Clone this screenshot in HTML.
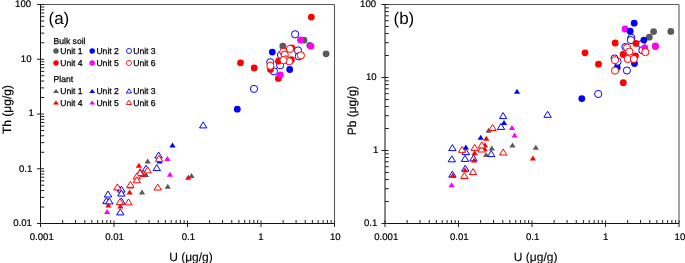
<!DOCTYPE html>
<html><head><meta charset="utf-8"><style>
html,body{margin:0;padding:0;background:#fff;}
body{width:685px;height:263px;overflow:hidden;}
svg{display:block;will-change:transform;text-rendering:geometricPrecision;font-family:"Liberation Sans",sans-serif;fill:#000;}
text.l{stroke:#000;stroke-width:0.25px;}
text.t{stroke:#000;stroke-width:0.2px;}
text.r{stroke:#000;stroke-width:0.2px;}
text.x{stroke:#000;stroke-width:0.12px;}
</style></head><body>
<svg width="685" height="263" viewBox="0 0 685 263">
<line x1="37.00" y1="4.50" x2="334.50" y2="4.50" stroke="#5a5a5a" stroke-width="1.1"/>
<line x1="334.50" y1="4.50" x2="334.50" y2="223.50" stroke="#5a5a5a" stroke-width="1.1"/>
<line x1="40.50" y1="4.50" x2="40.50" y2="224.00" stroke="#111" stroke-width="1"/>
<line x1="40.50" y1="223.50" x2="334.50" y2="223.50" stroke="#111" stroke-width="1"/>
<line x1="40.50" y1="220.50" x2="40.50" y2="227.00" stroke="#222" stroke-width="1"/>
<line x1="62.63" y1="223.50" x2="62.63" y2="220.00" stroke="#222" stroke-width="1"/>
<line x1="75.57" y1="223.50" x2="75.57" y2="220.00" stroke="#222" stroke-width="1"/>
<line x1="84.75" y1="223.50" x2="84.75" y2="220.00" stroke="#222" stroke-width="1"/>
<line x1="91.87" y1="223.50" x2="91.87" y2="220.00" stroke="#222" stroke-width="1"/>
<line x1="97.69" y1="223.50" x2="97.69" y2="220.00" stroke="#222" stroke-width="1"/>
<line x1="102.61" y1="223.50" x2="102.61" y2="220.00" stroke="#222" stroke-width="1"/>
<line x1="106.88" y1="223.50" x2="106.88" y2="220.00" stroke="#222" stroke-width="1"/>
<line x1="110.64" y1="223.50" x2="110.64" y2="220.00" stroke="#222" stroke-width="1"/>
<line x1="114.00" y1="220.50" x2="114.00" y2="227.00" stroke="#222" stroke-width="1"/>
<line x1="136.13" y1="223.50" x2="136.13" y2="220.00" stroke="#222" stroke-width="1"/>
<line x1="149.07" y1="223.50" x2="149.07" y2="220.00" stroke="#222" stroke-width="1"/>
<line x1="158.25" y1="223.50" x2="158.25" y2="220.00" stroke="#222" stroke-width="1"/>
<line x1="165.37" y1="223.50" x2="165.37" y2="220.00" stroke="#222" stroke-width="1"/>
<line x1="171.19" y1="223.50" x2="171.19" y2="220.00" stroke="#222" stroke-width="1"/>
<line x1="176.11" y1="223.50" x2="176.11" y2="220.00" stroke="#222" stroke-width="1"/>
<line x1="180.38" y1="223.50" x2="180.38" y2="220.00" stroke="#222" stroke-width="1"/>
<line x1="184.14" y1="223.50" x2="184.14" y2="220.00" stroke="#222" stroke-width="1"/>
<line x1="187.50" y1="220.50" x2="187.50" y2="227.00" stroke="#222" stroke-width="1"/>
<line x1="209.63" y1="223.50" x2="209.63" y2="220.00" stroke="#222" stroke-width="1"/>
<line x1="222.57" y1="223.50" x2="222.57" y2="220.00" stroke="#222" stroke-width="1"/>
<line x1="231.75" y1="223.50" x2="231.75" y2="220.00" stroke="#222" stroke-width="1"/>
<line x1="238.87" y1="223.50" x2="238.87" y2="220.00" stroke="#222" stroke-width="1"/>
<line x1="244.69" y1="223.50" x2="244.69" y2="220.00" stroke="#222" stroke-width="1"/>
<line x1="249.61" y1="223.50" x2="249.61" y2="220.00" stroke="#222" stroke-width="1"/>
<line x1="253.88" y1="223.50" x2="253.88" y2="220.00" stroke="#222" stroke-width="1"/>
<line x1="257.64" y1="223.50" x2="257.64" y2="220.00" stroke="#222" stroke-width="1"/>
<line x1="261.00" y1="220.50" x2="261.00" y2="227.00" stroke="#222" stroke-width="1"/>
<line x1="283.13" y1="223.50" x2="283.13" y2="220.00" stroke="#222" stroke-width="1"/>
<line x1="296.07" y1="223.50" x2="296.07" y2="220.00" stroke="#222" stroke-width="1"/>
<line x1="305.25" y1="223.50" x2="305.25" y2="220.00" stroke="#222" stroke-width="1"/>
<line x1="312.37" y1="223.50" x2="312.37" y2="220.00" stroke="#222" stroke-width="1"/>
<line x1="318.19" y1="223.50" x2="318.19" y2="220.00" stroke="#222" stroke-width="1"/>
<line x1="323.11" y1="223.50" x2="323.11" y2="220.00" stroke="#222" stroke-width="1"/>
<line x1="327.38" y1="223.50" x2="327.38" y2="220.00" stroke="#222" stroke-width="1"/>
<line x1="331.14" y1="223.50" x2="331.14" y2="220.00" stroke="#222" stroke-width="1"/>
<line x1="334.50" y1="220.50" x2="334.50" y2="227.00" stroke="#222" stroke-width="1"/>
<line x1="37.00" y1="223.50" x2="44.00" y2="223.50" stroke="#222" stroke-width="1"/>
<line x1="40.50" y1="207.02" x2="44.30" y2="207.02" stroke="#222" stroke-width="1"/>
<line x1="40.50" y1="197.38" x2="44.30" y2="197.38" stroke="#222" stroke-width="1"/>
<line x1="40.50" y1="190.54" x2="44.30" y2="190.54" stroke="#222" stroke-width="1"/>
<line x1="40.50" y1="185.23" x2="44.30" y2="185.23" stroke="#222" stroke-width="1"/>
<line x1="40.50" y1="180.90" x2="44.30" y2="180.90" stroke="#222" stroke-width="1"/>
<line x1="40.50" y1="177.23" x2="44.30" y2="177.23" stroke="#222" stroke-width="1"/>
<line x1="40.50" y1="174.06" x2="44.30" y2="174.06" stroke="#222" stroke-width="1"/>
<line x1="40.50" y1="171.26" x2="44.30" y2="171.26" stroke="#222" stroke-width="1"/>
<line x1="37.00" y1="168.75" x2="44.00" y2="168.75" stroke="#222" stroke-width="1"/>
<line x1="40.50" y1="152.27" x2="44.30" y2="152.27" stroke="#222" stroke-width="1"/>
<line x1="40.50" y1="142.63" x2="44.30" y2="142.63" stroke="#222" stroke-width="1"/>
<line x1="40.50" y1="135.79" x2="44.30" y2="135.79" stroke="#222" stroke-width="1"/>
<line x1="40.50" y1="130.48" x2="44.30" y2="130.48" stroke="#222" stroke-width="1"/>
<line x1="40.50" y1="126.15" x2="44.30" y2="126.15" stroke="#222" stroke-width="1"/>
<line x1="40.50" y1="122.48" x2="44.30" y2="122.48" stroke="#222" stroke-width="1"/>
<line x1="40.50" y1="119.31" x2="44.30" y2="119.31" stroke="#222" stroke-width="1"/>
<line x1="40.50" y1="116.51" x2="44.30" y2="116.51" stroke="#222" stroke-width="1"/>
<line x1="37.00" y1="114.00" x2="44.00" y2="114.00" stroke="#222" stroke-width="1"/>
<line x1="40.50" y1="97.52" x2="44.30" y2="97.52" stroke="#222" stroke-width="1"/>
<line x1="40.50" y1="87.88" x2="44.30" y2="87.88" stroke="#222" stroke-width="1"/>
<line x1="40.50" y1="81.04" x2="44.30" y2="81.04" stroke="#222" stroke-width="1"/>
<line x1="40.50" y1="75.73" x2="44.30" y2="75.73" stroke="#222" stroke-width="1"/>
<line x1="40.50" y1="71.40" x2="44.30" y2="71.40" stroke="#222" stroke-width="1"/>
<line x1="40.50" y1="67.73" x2="44.30" y2="67.73" stroke="#222" stroke-width="1"/>
<line x1="40.50" y1="64.56" x2="44.30" y2="64.56" stroke="#222" stroke-width="1"/>
<line x1="40.50" y1="61.76" x2="44.30" y2="61.76" stroke="#222" stroke-width="1"/>
<line x1="37.00" y1="59.25" x2="44.00" y2="59.25" stroke="#222" stroke-width="1"/>
<line x1="40.50" y1="42.77" x2="44.30" y2="42.77" stroke="#222" stroke-width="1"/>
<line x1="40.50" y1="33.13" x2="44.30" y2="33.13" stroke="#222" stroke-width="1"/>
<line x1="40.50" y1="26.29" x2="44.30" y2="26.29" stroke="#222" stroke-width="1"/>
<line x1="40.50" y1="20.98" x2="44.30" y2="20.98" stroke="#222" stroke-width="1"/>
<line x1="40.50" y1="16.65" x2="44.30" y2="16.65" stroke="#222" stroke-width="1"/>
<line x1="40.50" y1="12.98" x2="44.30" y2="12.98" stroke="#222" stroke-width="1"/>
<line x1="40.50" y1="9.81" x2="44.30" y2="9.81" stroke="#222" stroke-width="1"/>
<line x1="40.50" y1="7.01" x2="44.30" y2="7.01" stroke="#222" stroke-width="1"/>
<line x1="37.00" y1="4.50" x2="44.00" y2="4.50" stroke="#222" stroke-width="1"/>
<line x1="381.50" y1="4.50" x2="679.00" y2="4.50" stroke="#5a5a5a" stroke-width="1.1"/>
<line x1="679.00" y1="4.50" x2="679.00" y2="223.50" stroke="#5a5a5a" stroke-width="1.1"/>
<line x1="385.00" y1="4.50" x2="385.00" y2="224.00" stroke="#111" stroke-width="1"/>
<line x1="385.00" y1="223.50" x2="679.00" y2="223.50" stroke="#111" stroke-width="1"/>
<line x1="385.00" y1="220.50" x2="385.00" y2="227.00" stroke="#222" stroke-width="1"/>
<line x1="407.13" y1="223.50" x2="407.13" y2="220.00" stroke="#222" stroke-width="1"/>
<line x1="420.07" y1="223.50" x2="420.07" y2="220.00" stroke="#222" stroke-width="1"/>
<line x1="429.25" y1="223.50" x2="429.25" y2="220.00" stroke="#222" stroke-width="1"/>
<line x1="436.37" y1="223.50" x2="436.37" y2="220.00" stroke="#222" stroke-width="1"/>
<line x1="442.19" y1="223.50" x2="442.19" y2="220.00" stroke="#222" stroke-width="1"/>
<line x1="447.11" y1="223.50" x2="447.11" y2="220.00" stroke="#222" stroke-width="1"/>
<line x1="451.38" y1="223.50" x2="451.38" y2="220.00" stroke="#222" stroke-width="1"/>
<line x1="455.14" y1="223.50" x2="455.14" y2="220.00" stroke="#222" stroke-width="1"/>
<line x1="458.50" y1="220.50" x2="458.50" y2="227.00" stroke="#222" stroke-width="1"/>
<line x1="480.63" y1="223.50" x2="480.63" y2="220.00" stroke="#222" stroke-width="1"/>
<line x1="493.57" y1="223.50" x2="493.57" y2="220.00" stroke="#222" stroke-width="1"/>
<line x1="502.75" y1="223.50" x2="502.75" y2="220.00" stroke="#222" stroke-width="1"/>
<line x1="509.87" y1="223.50" x2="509.87" y2="220.00" stroke="#222" stroke-width="1"/>
<line x1="515.69" y1="223.50" x2="515.69" y2="220.00" stroke="#222" stroke-width="1"/>
<line x1="520.61" y1="223.50" x2="520.61" y2="220.00" stroke="#222" stroke-width="1"/>
<line x1="524.88" y1="223.50" x2="524.88" y2="220.00" stroke="#222" stroke-width="1"/>
<line x1="528.64" y1="223.50" x2="528.64" y2="220.00" stroke="#222" stroke-width="1"/>
<line x1="532.00" y1="220.50" x2="532.00" y2="227.00" stroke="#222" stroke-width="1"/>
<line x1="554.13" y1="223.50" x2="554.13" y2="220.00" stroke="#222" stroke-width="1"/>
<line x1="567.07" y1="223.50" x2="567.07" y2="220.00" stroke="#222" stroke-width="1"/>
<line x1="576.25" y1="223.50" x2="576.25" y2="220.00" stroke="#222" stroke-width="1"/>
<line x1="583.37" y1="223.50" x2="583.37" y2="220.00" stroke="#222" stroke-width="1"/>
<line x1="589.19" y1="223.50" x2="589.19" y2="220.00" stroke="#222" stroke-width="1"/>
<line x1="594.11" y1="223.50" x2="594.11" y2="220.00" stroke="#222" stroke-width="1"/>
<line x1="598.38" y1="223.50" x2="598.38" y2="220.00" stroke="#222" stroke-width="1"/>
<line x1="602.14" y1="223.50" x2="602.14" y2="220.00" stroke="#222" stroke-width="1"/>
<line x1="605.50" y1="220.50" x2="605.50" y2="227.00" stroke="#222" stroke-width="1"/>
<line x1="627.63" y1="223.50" x2="627.63" y2="220.00" stroke="#222" stroke-width="1"/>
<line x1="640.57" y1="223.50" x2="640.57" y2="220.00" stroke="#222" stroke-width="1"/>
<line x1="649.75" y1="223.50" x2="649.75" y2="220.00" stroke="#222" stroke-width="1"/>
<line x1="656.87" y1="223.50" x2="656.87" y2="220.00" stroke="#222" stroke-width="1"/>
<line x1="662.69" y1="223.50" x2="662.69" y2="220.00" stroke="#222" stroke-width="1"/>
<line x1="667.61" y1="223.50" x2="667.61" y2="220.00" stroke="#222" stroke-width="1"/>
<line x1="671.88" y1="223.50" x2="671.88" y2="220.00" stroke="#222" stroke-width="1"/>
<line x1="675.64" y1="223.50" x2="675.64" y2="220.00" stroke="#222" stroke-width="1"/>
<line x1="679.00" y1="220.50" x2="679.00" y2="227.00" stroke="#222" stroke-width="1"/>
<line x1="381.50" y1="223.50" x2="388.50" y2="223.50" stroke="#222" stroke-width="1"/>
<line x1="385.00" y1="201.52" x2="388.80" y2="201.52" stroke="#222" stroke-width="1"/>
<line x1="385.00" y1="188.67" x2="388.80" y2="188.67" stroke="#222" stroke-width="1"/>
<line x1="385.00" y1="179.55" x2="388.80" y2="179.55" stroke="#222" stroke-width="1"/>
<line x1="385.00" y1="172.48" x2="388.80" y2="172.48" stroke="#222" stroke-width="1"/>
<line x1="385.00" y1="166.69" x2="388.80" y2="166.69" stroke="#222" stroke-width="1"/>
<line x1="385.00" y1="161.81" x2="388.80" y2="161.81" stroke="#222" stroke-width="1"/>
<line x1="385.00" y1="157.57" x2="388.80" y2="157.57" stroke="#222" stroke-width="1"/>
<line x1="385.00" y1="153.84" x2="388.80" y2="153.84" stroke="#222" stroke-width="1"/>
<line x1="381.50" y1="150.50" x2="388.50" y2="150.50" stroke="#222" stroke-width="1"/>
<line x1="385.00" y1="128.52" x2="388.80" y2="128.52" stroke="#222" stroke-width="1"/>
<line x1="385.00" y1="115.67" x2="388.80" y2="115.67" stroke="#222" stroke-width="1"/>
<line x1="385.00" y1="106.55" x2="388.80" y2="106.55" stroke="#222" stroke-width="1"/>
<line x1="385.00" y1="99.48" x2="388.80" y2="99.48" stroke="#222" stroke-width="1"/>
<line x1="385.00" y1="93.69" x2="388.80" y2="93.69" stroke="#222" stroke-width="1"/>
<line x1="385.00" y1="88.81" x2="388.80" y2="88.81" stroke="#222" stroke-width="1"/>
<line x1="385.00" y1="84.57" x2="388.80" y2="84.57" stroke="#222" stroke-width="1"/>
<line x1="385.00" y1="80.84" x2="388.80" y2="80.84" stroke="#222" stroke-width="1"/>
<line x1="381.50" y1="77.50" x2="388.50" y2="77.50" stroke="#222" stroke-width="1"/>
<line x1="385.00" y1="55.52" x2="388.80" y2="55.52" stroke="#222" stroke-width="1"/>
<line x1="385.00" y1="42.67" x2="388.80" y2="42.67" stroke="#222" stroke-width="1"/>
<line x1="385.00" y1="33.55" x2="388.80" y2="33.55" stroke="#222" stroke-width="1"/>
<line x1="385.00" y1="26.48" x2="388.80" y2="26.48" stroke="#222" stroke-width="1"/>
<line x1="385.00" y1="20.69" x2="388.80" y2="20.69" stroke="#222" stroke-width="1"/>
<line x1="385.00" y1="15.81" x2="388.80" y2="15.81" stroke="#222" stroke-width="1"/>
<line x1="385.00" y1="11.57" x2="388.80" y2="11.57" stroke="#222" stroke-width="1"/>
<line x1="385.00" y1="7.84" x2="388.80" y2="7.84" stroke="#222" stroke-width="1"/>
<line x1="381.50" y1="4.50" x2="388.50" y2="4.50" stroke="#222" stroke-width="1"/>
<circle cx="282.80" cy="46.10" r="3.4" fill="#595959"/>
<circle cx="304.00" cy="40.20" r="3.4" fill="#595959"/>
<circle cx="309.80" cy="45.40" r="3.4" fill="#595959"/>
<circle cx="326.10" cy="53.80" r="3.4" fill="#595959"/>
<circle cx="237.30" cy="109.20" r="3.4" fill="#0000ff"/>
<circle cx="272.30" cy="52.10" r="3.4" fill="#0000ff"/>
<circle cx="289.70" cy="69.50" r="3.4" fill="#0000ff"/>
<circle cx="254.00" cy="88.90" r="3.6" fill="#fff" stroke="#0000ff" stroke-width="1"/>
<circle cx="295.10" cy="34.30" r="3.6" fill="#fff" stroke="#0000ff" stroke-width="1"/>
<circle cx="270.30" cy="62.20" r="3.6" fill="#fff" stroke="#0000ff" stroke-width="1"/>
<circle cx="273.90" cy="71.40" r="3.6" fill="#fff" stroke="#0000ff" stroke-width="1"/>
<circle cx="280.10" cy="65.30" r="3.6" fill="#fff" stroke="#0000ff" stroke-width="1"/>
<circle cx="298.00" cy="50.40" r="3.6" fill="#fff" stroke="#0000ff" stroke-width="1"/>
<circle cx="298.80" cy="56.40" r="3.6" fill="#fff" stroke="#0000ff" stroke-width="1"/>
<circle cx="281.00" cy="55.00" r="3.6" fill="#fff" stroke="#0000ff" stroke-width="1"/>
<circle cx="311.30" cy="17.10" r="3.4" fill="#ff0000"/>
<circle cx="240.50" cy="62.80" r="3.4" fill="#ff0000"/>
<circle cx="254.20" cy="67.90" r="3.4" fill="#ff0000"/>
<circle cx="270.50" cy="69.40" r="3.4" fill="#ff0000"/>
<circle cx="278.50" cy="61.20" r="3.4" fill="#ff0000"/>
<circle cx="278.40" cy="78.40" r="3.4" fill="#ff0000"/>
<circle cx="291.80" cy="48.00" r="3.4" fill="#ff0000"/>
<circle cx="291.40" cy="59.70" r="3.4" fill="#ff0000"/>
<circle cx="300.50" cy="40.00" r="3.4" fill="#ff00ff"/>
<circle cx="310.90" cy="46.20" r="3.4" fill="#ff00ff"/>
<circle cx="280.30" cy="75.00" r="3.4" fill="#ff00ff"/>
<circle cx="270.40" cy="65.80" r="3.6" fill="#fff" stroke="#ff0000" stroke-width="1"/>
<circle cx="283.30" cy="51.80" r="3.6" fill="#fff" stroke="#ff0000" stroke-width="1"/>
<circle cx="284.70" cy="54.80" r="3.6" fill="#fff" stroke="#ff0000" stroke-width="1"/>
<circle cx="285.70" cy="59.40" r="3.6" fill="#fff" stroke="#ff0000" stroke-width="1"/>
<circle cx="289.20" cy="61.30" r="3.6" fill="#fff" stroke="#ff0000" stroke-width="1"/>
<circle cx="290.00" cy="48.90" r="3.6" fill="#fff" stroke="#ff0000" stroke-width="1"/>
<circle cx="300.90" cy="55.40" r="3.6" fill="#fff" stroke="#ff0000" stroke-width="1"/>
<circle cx="283.50" cy="60.10" r="3.6" fill="#fff" stroke="#ff0000" stroke-width="1"/>
<path d="M142.00 189.60L145.10 194.60L138.90 194.60Z" fill="#595959"/>
<path d="M147.70 158.60L150.80 163.60L144.60 163.60Z" fill="#595959"/>
<path d="M167.80 183.70L170.90 188.70L164.70 188.70Z" fill="#595959"/>
<path d="M191.50 173.10L194.60 178.10L188.40 178.10Z" fill="#595959"/>
<path d="M146.00 171.90L149.10 176.90L142.90 176.90Z" fill="#595959"/>
<path d="M172.50 142.60L175.60 147.60L169.40 147.60Z" fill="#0000ff"/>
<path d="M159.60 158.50L162.70 163.50L156.50 163.50Z" fill="#0000ff"/>
<path d="M119.50 186.10L122.60 191.10L116.40 191.10Z" fill="#0000ff"/>
<path d="M203.20 121.90L206.90 127.90L199.50 127.90Z" fill="#fff" stroke="#0000ff" stroke-width="1"/>
<path d="M158.60 152.00L162.30 158.00L154.90 158.00Z" fill="#fff" stroke="#0000ff" stroke-width="1"/>
<path d="M156.80 164.60L160.50 170.60L153.10 170.60Z" fill="#fff" stroke="#0000ff" stroke-width="1"/>
<path d="M146.00 165.20L149.70 171.20L142.30 171.20Z" fill="#fff" stroke="#0000ff" stroke-width="1"/>
<path d="M121.40 186.10L125.10 192.10L117.70 192.10Z" fill="#fff" stroke="#0000ff" stroke-width="1"/>
<path d="M121.40 190.10L125.10 196.10L117.70 196.10Z" fill="#fff" stroke="#0000ff" stroke-width="1"/>
<path d="M108.00 191.00L111.70 197.00L104.30 197.00Z" fill="#fff" stroke="#0000ff" stroke-width="1"/>
<path d="M106.40 197.60L110.10 203.60L102.70 203.60Z" fill="#fff" stroke="#0000ff" stroke-width="1"/>
<path d="M109.30 198.00L113.00 204.00L105.60 204.00Z" fill="#fff" stroke="#0000ff" stroke-width="1"/>
<path d="M121.40 198.00L125.10 204.00L117.70 204.00Z" fill="#fff" stroke="#0000ff" stroke-width="1"/>
<path d="M120.30 208.90L124.00 214.90L116.60 214.90Z" fill="#fff" stroke="#0000ff" stroke-width="1"/>
<path d="M188.30 174.80L191.40 179.80L185.20 179.80Z" fill="#ff0000"/>
<path d="M138.90 162.80L142.00 167.80L135.80 167.80Z" fill="#ff0000"/>
<path d="M140.20 168.10L143.30 173.10L137.10 173.10Z" fill="#ff0000"/>
<path d="M143.00 172.00L146.10 177.00L139.90 177.00Z" fill="#ff0000"/>
<path d="M129.60 189.50L132.70 194.50L126.50 194.50Z" fill="#ff0000"/>
<path d="M130.30 183.50L133.40 188.50L127.20 188.50Z" fill="#ff0000"/>
<path d="M108.40 202.50L111.50 207.50L105.30 207.50Z" fill="#ff0000"/>
<path d="M120.40 203.60L123.50 208.60L117.30 208.60Z" fill="#ff0000"/>
<path d="M167.40 155.90L170.50 160.90L164.30 160.90Z" fill="#ff00ff"/>
<path d="M170.00 171.70L173.10 176.70L166.90 176.70Z" fill="#ff00ff"/>
<path d="M107.10 209.00L110.20 214.00L104.00 214.00Z" fill="#ff00ff"/>
<path d="M159.10 155.40L162.80 161.40L155.40 161.40Z" fill="#fff" stroke="#ff0000" stroke-width="1"/>
<path d="M147.70 166.90L151.40 172.90L144.00 172.90Z" fill="#fff" stroke="#ff0000" stroke-width="1"/>
<path d="M140.00 169.60L143.70 175.60L136.30 175.60Z" fill="#fff" stroke="#ff0000" stroke-width="1"/>
<path d="M136.80 173.00L140.50 179.00L133.10 179.00Z" fill="#fff" stroke="#ff0000" stroke-width="1"/>
<path d="M136.80 176.80L140.50 182.80L133.10 182.80Z" fill="#fff" stroke="#ff0000" stroke-width="1"/>
<path d="M130.40 181.40L134.10 187.40L126.70 187.40Z" fill="#fff" stroke="#ff0000" stroke-width="1"/>
<path d="M117.40 183.90L121.10 189.90L113.70 189.90Z" fill="#fff" stroke="#ff0000" stroke-width="1"/>
<path d="M120.00 198.60L123.70 204.60L116.30 204.60Z" fill="#fff" stroke="#ff0000" stroke-width="1"/>
<path d="M128.50 198.90L132.20 204.90L124.80 204.90Z" fill="#fff" stroke="#ff0000" stroke-width="1"/>
<path d="M157.70 184.00L161.40 190.00L154.00 190.00Z" fill="#fff" stroke="#ff0000" stroke-width="1"/>
<circle cx="649.30" cy="37.20" r="3.4" fill="#595959"/>
<circle cx="653.60" cy="31.60" r="3.4" fill="#595959"/>
<circle cx="670.80" cy="31.40" r="3.4" fill="#595959"/>
<circle cx="581.80" cy="98.60" r="3.4" fill="#0000ff"/>
<circle cx="634.20" cy="23.20" r="3.4" fill="#0000ff"/>
<circle cx="617.20" cy="67.60" r="3.4" fill="#0000ff"/>
<circle cx="634.50" cy="63.50" r="3.4" fill="#0000ff"/>
<circle cx="598.20" cy="94.00" r="3.6" fill="#fff" stroke="#0000ff" stroke-width="1"/>
<circle cx="631.30" cy="37.80" r="3.6" fill="#fff" stroke="#0000ff" stroke-width="1"/>
<circle cx="630.90" cy="40.10" r="3.6" fill="#fff" stroke="#0000ff" stroke-width="1"/>
<circle cx="614.60" cy="58.50" r="3.6" fill="#fff" stroke="#0000ff" stroke-width="1"/>
<circle cx="626.90" cy="70.50" r="3.6" fill="#fff" stroke="#0000ff" stroke-width="1"/>
<circle cx="625.40" cy="47.00" r="3.6" fill="#fff" stroke="#0000ff" stroke-width="1"/>
<circle cx="641.50" cy="44.20" r="3.6" fill="#fff" stroke="#0000ff" stroke-width="1"/>
<circle cx="642.30" cy="50.20" r="3.6" fill="#fff" stroke="#0000ff" stroke-width="1"/>
<circle cx="617.60" cy="61.60" r="3.6" fill="#fff" stroke="#0000ff" stroke-width="1"/>
<circle cx="585.00" cy="52.80" r="3.4" fill="#ff0000"/>
<circle cx="598.50" cy="64.20" r="3.4" fill="#ff0000"/>
<circle cx="615.20" cy="43.00" r="3.4" fill="#ff0000"/>
<circle cx="623.30" cy="82.70" r="3.4" fill="#ff0000"/>
<circle cx="636.00" cy="43.40" r="3.4" fill="#ff0000"/>
<circle cx="623.10" cy="54.50" r="3.4" fill="#ff0000"/>
<circle cx="635.50" cy="55.80" r="3.4" fill="#ff0000"/>
<circle cx="655.40" cy="46.40" r="3.4" fill="#ff0000"/>
<circle cx="625.00" cy="29.00" r="3.4" fill="#ff00ff"/>
<circle cx="644.80" cy="47.80" r="3.4" fill="#ff00ff"/>
<circle cx="655.40" cy="45.80" r="3.4" fill="#ff00ff"/>
<circle cx="615.00" cy="60.20" r="3.6" fill="#fff" stroke="#ff0000" stroke-width="1"/>
<circle cx="615.00" cy="70.60" r="3.6" fill="#fff" stroke="#ff0000" stroke-width="1"/>
<circle cx="627.10" cy="47.60" r="3.6" fill="#fff" stroke="#ff0000" stroke-width="1"/>
<circle cx="629.40" cy="51.60" r="3.6" fill="#fff" stroke="#ff0000" stroke-width="1"/>
<circle cx="627.70" cy="59.00" r="3.6" fill="#fff" stroke="#ff0000" stroke-width="1"/>
<circle cx="633.80" cy="59.00" r="3.6" fill="#fff" stroke="#ff0000" stroke-width="1"/>
<circle cx="645.40" cy="52.10" r="3.6" fill="#fff" stroke="#ff0000" stroke-width="1"/>
<circle cx="630.20" cy="31.20" r="3.4" fill="#0000ff"/>
<circle cx="643.90" cy="40.10" r="3.4" fill="#0000ff"/>
<path d="M488.60 127.80L491.70 132.80L485.50 132.80Z" fill="#595959"/>
<path d="M491.80 145.50L494.90 150.50L488.70 150.50Z" fill="#595959"/>
<path d="M486.10 151.90L489.20 156.90L483.00 156.90Z" fill="#595959"/>
<path d="M512.50 142.60L515.60 147.60L509.40 147.60Z" fill="#595959"/>
<path d="M535.80 144.70L538.90 149.70L532.70 149.70Z" fill="#595959"/>
<path d="M517.00 88.80L520.10 93.80L513.90 93.80Z" fill="#0000ff"/>
<path d="M504.00 119.90L507.10 124.90L500.90 124.90Z" fill="#0000ff"/>
<path d="M480.70 134.80L483.80 139.80L477.60 139.80Z" fill="#0000ff"/>
<path d="M503.10 112.60L506.80 118.60L499.40 118.60Z" fill="#fff" stroke="#0000ff" stroke-width="1"/>
<path d="M501.00 123.40L504.70 129.40L497.30 129.40Z" fill="#fff" stroke="#0000ff" stroke-width="1"/>
<path d="M547.60 111.30L551.30 117.30L543.90 117.30Z" fill="#fff" stroke="#0000ff" stroke-width="1"/>
<path d="M452.40 144.60L456.10 150.60L448.70 150.60Z" fill="#fff" stroke="#0000ff" stroke-width="1"/>
<path d="M451.80 155.80L455.50 161.80L448.10 161.80Z" fill="#fff" stroke="#0000ff" stroke-width="1"/>
<path d="M465.80 148.60L469.50 154.60L462.10 154.60Z" fill="#fff" stroke="#0000ff" stroke-width="1"/>
<path d="M465.00 155.40L468.70 161.40L461.30 161.40Z" fill="#fff" stroke="#0000ff" stroke-width="1"/>
<path d="M473.50 154.90L477.20 160.90L469.80 160.90Z" fill="#fff" stroke="#0000ff" stroke-width="1"/>
<path d="M491.20 150.60L494.90 156.60L487.50 156.60Z" fill="#fff" stroke="#0000ff" stroke-width="1"/>
<path d="M452.40 171.10L456.10 177.10L448.70 177.10Z" fill="#fff" stroke="#0000ff" stroke-width="1"/>
<path d="M465.30 165.20L469.00 171.20L461.60 171.20Z" fill="#fff" stroke="#0000ff" stroke-width="1"/>
<path d="M486.30 135.80L489.40 140.80L483.20 140.80Z" fill="#ff0000"/>
<path d="M532.90 155.50L536.00 160.50L529.80 160.50Z" fill="#ff0000"/>
<path d="M474.60 150.30L477.70 155.30L471.50 155.30Z" fill="#ff0000"/>
<path d="M474.10 157.60L477.20 162.60L471.00 162.60Z" fill="#ff0000"/>
<path d="M485.00 142.30L488.10 147.30L481.90 147.30Z" fill="#ff0000"/>
<path d="M484.60 146.20L487.70 151.20L481.50 151.20Z" fill="#ff0000"/>
<path d="M452.80 172.70L455.90 177.70L449.70 177.70Z" fill="#ff0000"/>
<path d="M465.00 167.20L468.10 172.20L461.90 172.20Z" fill="#ff0000"/>
<path d="M512.00 125.00L515.10 130.00L508.90 130.00Z" fill="#ff00ff"/>
<path d="M514.60 132.40L517.70 137.40L511.50 137.40Z" fill="#ff00ff"/>
<path d="M451.60 182.20L454.70 187.20L448.50 187.20Z" fill="#ff00ff"/>
<path d="M492.60 124.50L496.30 130.50L488.90 130.50Z" fill="#fff" stroke="#ff0000" stroke-width="1"/>
<path d="M462.10 146.30L465.80 152.30L458.40 152.30Z" fill="#fff" stroke="#ff0000" stroke-width="1"/>
<path d="M474.70 144.40L478.40 150.40L471.00 150.40Z" fill="#fff" stroke="#ff0000" stroke-width="1"/>
<path d="M481.50 146.00L485.20 152.00L477.80 152.00Z" fill="#fff" stroke="#ff0000" stroke-width="1"/>
<path d="M481.80 141.90L485.50 147.90L478.10 147.90Z" fill="#fff" stroke="#ff0000" stroke-width="1"/>
<path d="M503.20 149.00L506.90 155.00L499.50 155.00Z" fill="#fff" stroke="#ff0000" stroke-width="1"/>
<path d="M464.40 172.50L468.10 178.50L460.70 178.50Z" fill="#fff" stroke="#ff0000" stroke-width="1"/>
<path d="M473.00 168.60L476.70 174.60L469.30 174.60Z" fill="#fff" stroke="#ff0000" stroke-width="1"/>
<path d="M465.90 144.40L469.00 149.40L462.80 149.40Z" fill="#0000ff"/>
<text x="23.10" y="6.70" font-size="9.6" text-anchor="middle" class="t">100</text>
<text x="26.20" y="61.70" font-size="9.6" text-anchor="middle" class="t">10</text>
<text x="31.10" y="116.30" font-size="9.6" text-anchor="middle" class="t">1</text>
<text x="25.70" y="171.90" font-size="9.6" text-anchor="middle" class="t">0.1</text>
<text x="22.50" y="226.40" font-size="9.6" text-anchor="middle" class="t">0.01</text>
<text x="41.80" y="240.00" font-size="9.6" text-anchor="middle" class="t">0.001</text>
<text x="114.50" y="240.00" font-size="9.6" text-anchor="middle" class="t">0.01</text>
<text x="188.40" y="239.90" font-size="9.6" text-anchor="middle" class="t">0.1</text>
<text x="260.80" y="240.00" font-size="9.6" text-anchor="middle" class="t">1</text>
<text x="335.30" y="240.00" font-size="9.6" text-anchor="middle" class="t">10</text>
<text x="368.10" y="6.70" font-size="9.6" text-anchor="middle" class="t">100</text>
<text x="371.30" y="80.10" font-size="9.6" text-anchor="middle" class="t">10</text>
<text x="375.70" y="152.90" font-size="9.6" text-anchor="middle" class="t">1</text>
<text x="370.70" y="226.40" font-size="9.6" text-anchor="middle" class="t">0.1</text>
<text x="386.30" y="240.00" font-size="9.6" text-anchor="middle" class="t">0.001</text>
<text x="459.30" y="240.00" font-size="9.6" text-anchor="middle" class="t">0.01</text>
<text x="532.60" y="240.00" font-size="9.6" text-anchor="middle" class="t">0.1</text>
<text x="605.70" y="240.00" font-size="9.6" text-anchor="middle" class="t">1</text>
<text x="679.90" y="240.00" font-size="9.6" text-anchor="middle" class="t">10</text>
<text x="48.50" y="23.60" font-size="17" text-anchor="start" >(a)</text>
<text x="393.50" y="23.60" font-size="17" text-anchor="start" >(b)</text>
<text x="191.00" y="260.60" font-size="12" text-anchor="middle" class="x">U (&#956;g/g)</text>
<text x="535.60" y="260.60" font-size="12" text-anchor="middle" class="x">U (&#956;g/g)</text>
<text transform="translate(10.8,109.5) rotate(-90)" class="r" font-size="12" text-anchor="middle">Th (&#956;g/g)</text>
<text transform="translate(355.8,110.5) rotate(-90)" class="r" font-size="12" text-anchor="middle">Pb (&#956;g/g)</text>
<text x="53.50" y="43.80" font-size="8.6" text-anchor="start" class="l">Bulk soil</text>
<text x="53.50" y="81.60" font-size="8.6" text-anchor="start" class="l">Plant</text>
<circle cx="56.00" cy="51.00" r="2.75" fill="#595959"/>
<text x="60.20" y="54.40" font-size="8.6" text-anchor="start" class="l">Unit 1</text>
<path d="M56.00 88.90L58.95 93.00L53.05 93.00Z" fill="#595959"/>
<text x="60.20" y="94.00" font-size="8.6" text-anchor="start" class="l">Unit 1</text>
<circle cx="92.20" cy="51.00" r="2.75" fill="#0000ff"/>
<text x="96.40" y="54.40" font-size="8.6" text-anchor="start" class="l">Unit 2</text>
<path d="M92.20 88.90L95.15 93.00L89.25 93.00Z" fill="#0000ff"/>
<text x="96.40" y="94.00" font-size="8.6" text-anchor="start" class="l">Unit 2</text>
<circle cx="129.00" cy="51.00" r="2.55" fill="none" stroke="#0000ff" stroke-width="0.85"/>
<text x="133.20" y="54.40" font-size="8.6" text-anchor="start" class="l">Unit 3</text>
<path d="M129.00 88.70L131.70 93.00L126.30 93.00Z" fill="none" stroke="#0000ff" stroke-width="0.9"/>
<text x="133.20" y="94.00" font-size="8.6" text-anchor="start" class="l">Unit 3</text>
<circle cx="56.00" cy="63.00" r="2.75" fill="#ff0000"/>
<text x="60.20" y="66.30" font-size="8.6" text-anchor="start" class="l">Unit 4</text>
<path d="M56.00 100.40L58.95 104.50L53.05 104.50Z" fill="#ff0000"/>
<text x="60.20" y="106.20" font-size="8.6" text-anchor="start" class="l">Unit 4</text>
<circle cx="92.20" cy="63.00" r="2.75" fill="#ff00ff"/>
<text x="96.40" y="66.30" font-size="8.6" text-anchor="start" class="l">Unit 5</text>
<path d="M92.20 100.40L95.15 104.50L89.25 104.50Z" fill="#ff00ff"/>
<text x="96.40" y="106.20" font-size="8.6" text-anchor="start" class="l">Unit 5</text>
<circle cx="129.00" cy="63.00" r="2.55" fill="none" stroke="#ff0000" stroke-width="0.85"/>
<text x="133.20" y="66.30" font-size="8.6" text-anchor="start" class="l">Unit 6</text>
<path d="M129.00 100.20L131.70 104.50L126.30 104.50Z" fill="none" stroke="#ff0000" stroke-width="0.9"/>
<text x="133.20" y="106.20" font-size="8.6" text-anchor="start" class="l">Unit 6</text>
</svg>
</body></html>
